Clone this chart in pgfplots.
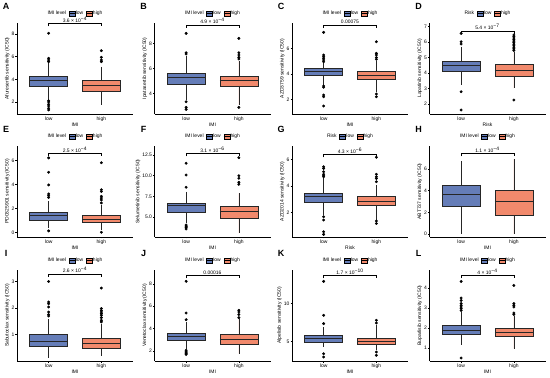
\documentclass[border=0pt]{standalone}
\usepackage{fontspec}
\setmainfont{Liberation Sans}
\usepackage{pgfplots}
\pgfplotsset{compat=1.18}
\usepgfplotslibrary{statistics}
\definecolor{lowc}{RGB}{101,125,184}
\definecolor{highc}{RGB}{241,137,108}
\newcommand\fs{\fontsize{5}{6}\selectfont}
\pgfplotsset{panel/.style={
  scale only axis, width=116bp, height=91bp, anchor=south west,
  xmin=0.4, xmax=2.6, xtick={1,2}, xticklabels={low,high},
  axis lines=left, axis line style={-, line width=0.4pt},
  tick align=outside, major tick length=1.5bp, tick style={line width=0.4pt, black},
  tick label style={font=\fs, inner sep=0.8bp},
  /pgf/number format/assume math mode=true,
  every axis y label/.style={at={(ticklabel cs:0.5)}, rotate=90, anchor=near ticklabel, font=\fs, inner sep=1bp},
  every axis x label/.style={at={(ticklabel cs:0.5)}, anchor=near ticklabel, font=\fs, inner sep=0.5bp},
  clip=false,
  legend columns=3,
  legend style={at={(axis description cs:0.5,1)}, anchor=south, yshift=6bp, draw=none, fill=none,
    font=\fs, inner sep=0pt, nodes={inner sep=0.6bp},
    /tikz/every even column/.append style={column sep=2bp}},
}}
\newcommand{\leg}[1]{%
  \addlegendimage{empty legend}\addlegendentry{#1}
  \addlegendimage{legend image code/.code={\draw[fill=lowc,draw=black,line width=0.3pt] (0bp,-2.5bp) rectangle (6bp,2.5bp); \draw[line width=0.5pt] (0bp,0bp)--(6bp,0bp);}}\addlegendentry{low}
  \addlegendimage{legend image code/.code={\draw[fill=highc,draw=black,line width=0.3pt] (0bp,-2.5bp) rectangle (6bp,2.5bp); \draw[line width=0.5pt] (0bp,0bp)--(6bp,0bp);}}\addlegendentry{high}}
\newcommand{\bxp}[7]{\addplot[boxplot prepared={draw direction=y, draw position=#1, lower whisker=#3, lower quartile=#4, median=#5, upper quartile=#6, upper whisker=#7, box extend=0.72, whisker extend=0, every median/.style={line width=0.8pt}}, fill=#2, draw=black!85, line width=0.35pt, forget plot] coordinates {};}
\newcommand{\outl}[1]{\addplot[only marks, mark=*, mark size=1.25bp, black, forget plot] coordinates {#1};}
\newcommand{\brk}[2]{\draw[line width=0.35pt] ([yshift=-3bp]axis cs:1,#1) -- (axis cs:1,#1) -- (axis cs:2,#1) -- ([yshift=-3bp]axis cs:2,#1);
  \node[anchor=south, inner sep=0.8bp, font=\fs] at (axis cs:1.5,#1) {#2};}
\newcommand{\plet}[1]{\node[font=\bfseries\fontsize{9}{10}\selectfont] at ([xshift=-11bp,yshift=17bp]axis description cs:0,1) {#1};}
\begin{document}
\begin{tikzpicture}
\useasboundingbox (0,0) rectangle (550bp,378bp);
% A
\begin{axis}[panel, at={(17bp,264bp)}, ymin=0.94, ymax=8.97, ytick={2,4,6,8}, ylabel={Afuresertib sensitivity (IC50)}, xlabel={IMI}]
\leg{IMI level}
\bxp{1}{lowc}{2.18}{3.41}{3.94}{4.24}{5.41}
\bxp{2}{highc}{1.74}{2.97}{3.5}{3.94}{5.12}
\outl{(1,8.06)(1,5.85)(1,5.7)(1,5.56)(1,2.1)(1,2.0)(1,1.8)(1,1.65)(1,1.45)(1,1.3)}
\outl{(2,6.53)(2,5.94)(2,5.7)(2,5.56)}
\brk{8.94}{3.6 × 10\textsuperscript{−4}}
\plet{A}
\end{axis}
% B
\begin{axis}[panel, at={(154.5bp,264bp)}, ymin=2.35, ymax=9.63, ytick={4,6,8}, ylabel={Ipatasertib sensitivity (IC50)}, xlabel={IMI}]
\leg{IMI level}
\bxp{1}{lowc}{3.47}{4.75}{5.28}{5.6}{7.0}
\bxp{2}{highc}{3.07}{4.59}{5.01}{5.39}{6.6}
\outl{(1,8.8)(1,7.25)(1,7.15)(1,3.33)(1,2.88)(1,2.72)}
\outl{(2,8.4)(2,7.25)(2,7.07)(2,6.88)(2,6.75)(2,2.88)}
\brk{9.47}{4.9 × 10\textsuperscript{−4}}
\plet{B}
\end{axis}
% C
\begin{axis}[panel, at={(292bp,264bp)}, ymin=0.84, ymax=8.03, ytick={2,4,6}, ylabel={AZD3759 sensitivity (IC50)}, xlabel={IMI}]
\leg{IMI level}
\bxp{1}{lowc}{3.13}{3.92}{4.24}{4.45}{4.9}
\bxp{2}{highc}{2.6}{3.6}{3.92}{4.26}{5.0}
\outl{(1,7.29)(1,5.5)(1,5.37)(1,5.24)(1,5.1)(1,4.97)(1,3.05)(1,2.95)(1,2.34)(1,2.2)(1,1.47)}
\outl{(2,6.55)(2,5.63)(2,5.5)(2,5.3)(2,5.16)(2,2.42)(2,2.2)}
\brk{7.87}{0.00075}
\plet{C}
\end{axis}
% D
\begin{axis}[panel, at={(429.5bp,264bp)}, ymin=1.34, ymax=7.22, ytick={2,3,4,5,6,7}, ylabel={Lapatinib sensitivity (IC50)}, xlabel={Risk}]
\leg{Risk}
\bxp{1}{lowc}{3.21}{4.12}{4.46}{4.78}{5.69}
\bxp{2}{highc}{3.0}{3.79}{4.18}{4.55}{5.37}
\outl{(1,6.55)(1,6.01)(1,5.86)(1,2.78)(1,1.6)}
\outl{(2,6.45)(2,6.35)(2,6.25)(2,6.15)(2,6.05)(2,5.95)(2,5.85)(2,5.75)(2,5.65)(2,5.55)(2,5.45)(2,2.24)}
\brk{6.72}{5.4 × 10\textsuperscript{−7}}
\plet{D}
\end{axis}
% E
\begin{axis}[panel, at={(17bp,141bp)}, ymin=-0.39, ymax=7.19, ytick={0,2,4,6}, ylabel={PD0325901 sensitivity (IC50)}, xlabel={IMI}]
\leg{IMI level}
\bxp{1}{lowc}{0.35}{1.03}{1.39}{1.67}{2.6}
\bxp{2}{highc}{0.2}{0.83}{1.11}{1.44}{2.3}
\outl{(1,6.2)(1,5.0)(1,3.95)(1,3.2)(1,3.05)(1,2.9)(1,0.12)}
\outl{(2,5.8)(2,3.55)(2,3.4)(2,3.0)(2,2.85)(2,2.7)(2,2.45)(2,0.0)}
\brk{6.58}{2.5 × 10\textsuperscript{−4}}
\plet{E}
\end{axis}
% F
\begin{axis}[panel, at={(154.5bp,141bp)}, ymin=2.58, ymax=13.59, ytick={5,7.5,10,12.5}, yticklabel style={/pgf/number format/.cd, fixed, fixed zerofill, precision=1}, ylabel={Selumetinib sensitivity (IC50)}, xlabel={IMI}]
\leg{IMI level}
\bxp{1}{lowc}{4.23}{5.56}{6.37}{6.65}{8.06}
\bxp{2}{highc}{3.02}{4.84}{5.73}{6.33}{7.86}
\outl{(1,11.5)(1,10.08)(1,8.59)(1,4.03)(1,3.9)(1,3.8)(1,3.7)(1,3.55)}
\outl{(2,12.18)(2,10.0)(2,9.68)(2,9.19)(2,8.95)}
\brk{12.7}{3.1 × 10\textsuperscript{−6}}
\plet{F}
\end{axis}
% G
\begin{axis}[panel, at={(292bp,141bp)}, ymin=0.13, ymax=7.04, ytick={2,4,6}, ylabel={AZD2014 sensitivity (IC50)}, xlabel={Risk}]
\leg{Risk}
\bxp{1}{lowc}{1.8}{2.76}{3.19}{3.49}{4.58}
\bxp{2}{highc}{1.42}{2.51}{2.86}{3.24}{4.08}
\outl{(1,5.47)(1,5.34)(1,5.09)(1,4.89)(1,4.78)(1,4.7)(1,1.67)(1,1.42)(1,0.53)(1,0.33)}
\outl{(2,6.18)(2,4.89)(2,4.7)(2,4.58)(2,4.33)(2,1.34)(2,1.16)}
\brk{6.4}{4.3 × 10\textsuperscript{−6}}
\plet{G}
\end{axis}
% H
\begin{axis}[panel, at={(429.5bp,141bp)}, ymin=-0.28, ymax=8.12, ytick={0,2,4,6}, ylabel={ABT737 sensitivity (IC50)}, xlabel={IMI}]
\leg{IMI level}
\bxp{1}{lowc}{0}{2.58}{3.66}{4.52}{6.74}
\bxp{2}{highc}{0}{1.75}{2.98}{4.0}{6.9}
\brk{7.45}{1.1 × 10\textsuperscript{−4}}
\plet{H}
\end{axis}
% I
\begin{axis}[panel, at={(17bp,17bp)}, ymin=0.01, ymax=3.43, ytick={1,2,3}, ylabel={Sabutoclax sensitivity (IC50)}, xlabel={IMI}]
\leg{IMI level}
\bxp{1}{lowc}{0.13}{0.56}{0.76}{1.0}{1.6}
\bxp{2}{highc}{0.2}{0.48}{0.66}{0.88}{1.41}
\outl{(1,3.0)(1,2.23)(1,2.16)(1,2.04)(1,1.85)(1,1.76)(1,1.7)}
\outl{(2,2.75)(2,1.98)(2,1.91)(2,1.85)(2,1.79)(2,1.73)(2,1.64)(2,1.54)(2,1.48)}
\brk{3.29}{2.6 × 10\textsuperscript{−4}}
\plet{I}
\end{axis}
% J
\begin{axis}[panel, at={(154.5bp,17bp)}, ymin=1.12, ymax=9.22, ytick={2,4,6,8}, ylabel={Venetoclax sensitivity (IC50)}, xlabel={IMI}]
\leg{IMI level}
\bxp{1}{lowc}{2.22}{2.96}{3.32}{3.64}{4.6}
\bxp{2}{highc}{1.78}{2.66}{3.05}{3.55}{4.85}
\outl{(1,8.21)(1,5.39)(1,4.8)(1,2.07)(1,1.95)(1,1.85)(1,1.78)(1,1.7)}
\outl{(2,5.63)(2,5.48)(2,5.25)(2,4.98)}
\brk{8.75}{0.00016}
\plet{J}
\end{axis}
% K
\begin{axis}[panel, at={(292bp,17bp)}, ymin=2.39, ymax=14.47, ytick={5,10}, ylabel={Alpelisib sensitivity (IC50)}, xlabel={IMI}]
\leg{IMI level}
\bxp{1}{lowc}{4.25}{4.91}{5.44}{5.88}{6.9}
\bxp{2}{highc}{3.8}{4.56}{5.04}{5.44}{7.12}
\outl{(1,12.96)(1,8.45)(1,7.35)(1,3.36)(1,2.92)}
\outl{(2,7.79)(2,7.43)(2,3.58)(2,3.14)}
\brk{13.76}{1.7 × 10\textsuperscript{−10}}
\plet{K}
\end{axis}
% L
\begin{axis}[panel, at={(429.5bp,17bp)}, ymin=0.35, ymax=4.9, ytick={1,2,3,4}, ylabel={Buparlisib sensitivity (IC50)}, xlabel={IMI}]
\leg{IMI level}
\bxp{1}{lowc}{1.17}{1.7}{1.88}{2.13}{2.8}
\bxp{2}{highc}{0.97}{1.6}{1.8}{2.0}{2.6}
\outl{(1,4.33)(1,3.5)(1,3.38)(1,3.22)(1,3.13)(1,3.05)(1,2.97)(1,2.88)(1,0.5)}
\outl{(2,4.13)(2,3.22)(2,3.13)(2,3.05)(2,2.75)(2,2.68)}
\brk{4.63}{4 × 10\textsuperscript{−4}}
\plet{L}
\end{axis}
\end{tikzpicture}
\end{document}
